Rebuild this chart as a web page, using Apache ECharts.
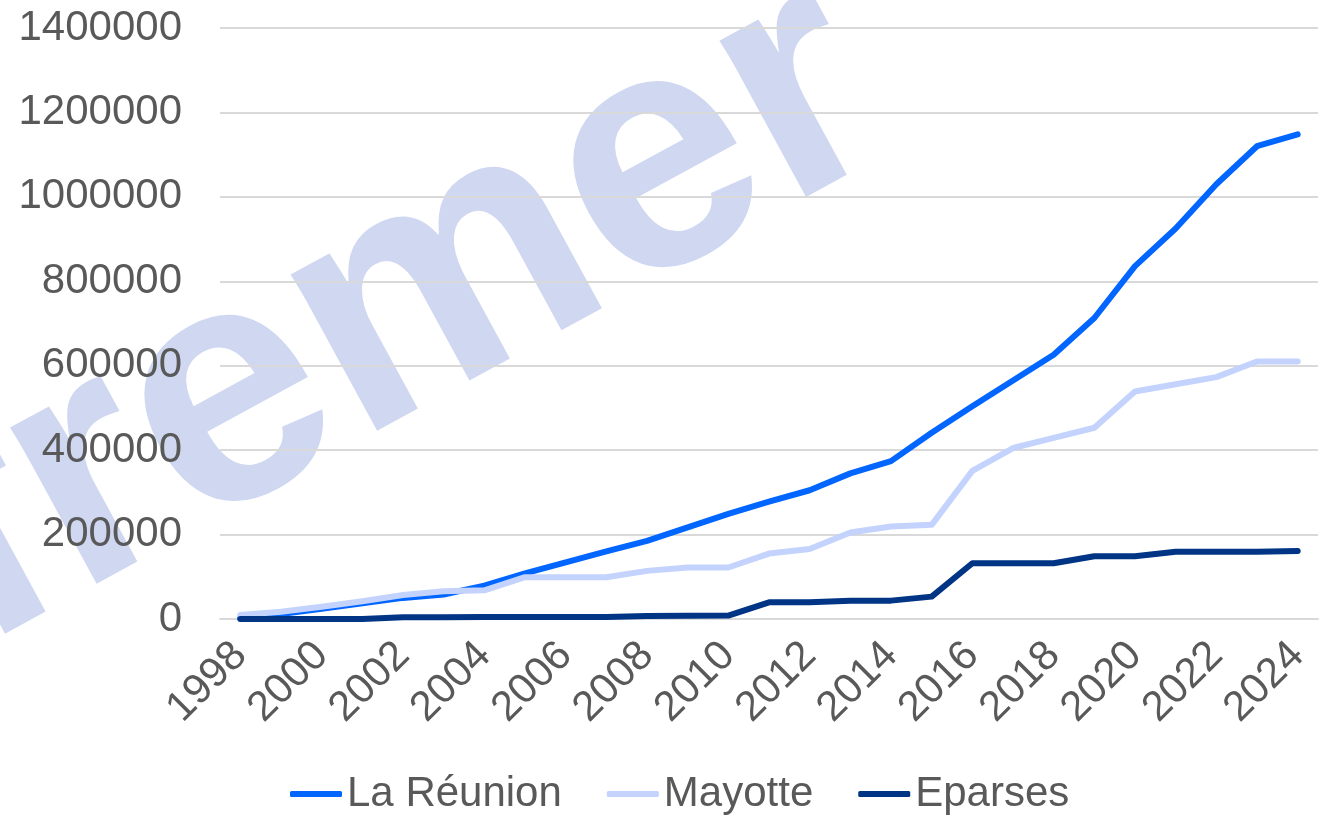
<!DOCTYPE html>
<html>
<head>
<meta charset="utf-8">
<script src="https://cdn.jsdelivr.net/npm/echarts@6/dist/echarts.min.js"></script>
<style>
html,body{margin:0;padding:0;background:#fff;}
#chart{width:1322px;height:816px;}
</style>
</head>
<body>
<div id="chart"></div>
<script>
const years = ['1998','1999','2000','2001','2002','2003','2004','2005','2006','2007','2008','2009','2010','2011','2012','2013','2014','2015','2016','2017','2018','2019','2020','2021','2022','2023','2024'];
const reunion = [2000, 12000, 24000, 37000, 50000, 58000, 79000, 108000, 134000, 160000, 185000, 217000, 249000, 278000, 305000, 345000, 374000, 441000, 504000, 565000, 626000, 713000, 836000, 925000, 1030000, 1120000, 1148000];
const mayotte = [9500, 17000, 29000, 42000, 57000, 66000, 68000, 99000, 99000, 99000, 114000, 122000, 122000, 155000, 166000, 205000, 219000, 223000, 351000, 405000, 429000, 453000, 539000, 556000, 573000, 610000, 610000];
const eparses = [0, 0, 0, 0, 4000, 4000, 5000, 5000, 5000, 5000, 7000, 7500, 8000, 39500, 39500, 43500, 43500, 53000, 132000, 132000, 132000, 148500, 148500, 159500, 159500, 159500, 161000];
const seriesNames = ['La Réunion', 'Mayotte', 'Eparses'];
const seriesColors = ['#0066ff', '#c3d3fd', '#003484'];
const watermarkText = 'Ifremer';

const FONT = "'Liberation Sans', Arial, sans-serif";
const chart = echarts.init(document.getElementById('chart'), null, {renderer: 'canvas'});

function mk(name, data, color) {
  return {
    name: name, type: 'line', data: data, symbol: 'none', showSymbol: false,
    lineStyle: {width: 6, color: color, cap: 'round', join: 'round'},
    itemStyle: {color: color},
    emphasis: {disabled: true},
    animation: false
  };
}

const rot = 28.6 * Math.PI / 180;
chart.setOption({
  animation: false,
  textStyle: {fontFamily: FONT},
  graphic: [{
    type: 'text', z: -10, silent: true,
    x: -150, y: 612, rotation: rot,
    style: {
      text: watermarkText,
      font: "bold 338px 'Liberation Sans', Arial, sans-serif",
      fill: '#cfd7f1',
      align: 'left', verticalAlign: 'middle'
    }
  }],
  grid: {left: 220, right: 4, top: 28, bottom: 197, containLabel: false},
  legend: {
    left: 290, top: 773, padding: 0,
    icon: 'roundRect',
    itemWidth: 52, itemHeight: 6, itemGap: 45,
    textStyle: {fontSize: 42, color: '#595959', fontFamily: FONT},
    data: seriesNames
  },
  xAxis: {
    type: 'category', data: years, boundaryGap: true,
    axisLine: {show: true, lineStyle: {color: '#d9d9d9', width: 2}},
    axisTick: {show: false},
    axisLabel: {interval: 1, rotate: 45, margin: 30, fontSize: 42, color: '#595959', fontFamily: FONT},
    splitLine: {show: false}
  },
  yAxis: {
    type: 'value', min: 0, max: 1400000, interval: 200000,
    axisLine: {show: false}, axisTick: {show: false},
    axisLabel: {margin: 38, fontSize: 42, color: '#595959', fontFamily: FONT,
      formatter: function (v) { return String(v); }},
    splitLine: {lineStyle: {color: '#d9d9d9', width: 2}}
  },
  series: [
    mk(seriesNames[0], reunion, seriesColors[0]),
    mk(seriesNames[1], mayotte, seriesColors[1]),
    mk(seriesNames[2], eparses, seriesColors[2])
  ]
});
</script>
</body>
</html>
